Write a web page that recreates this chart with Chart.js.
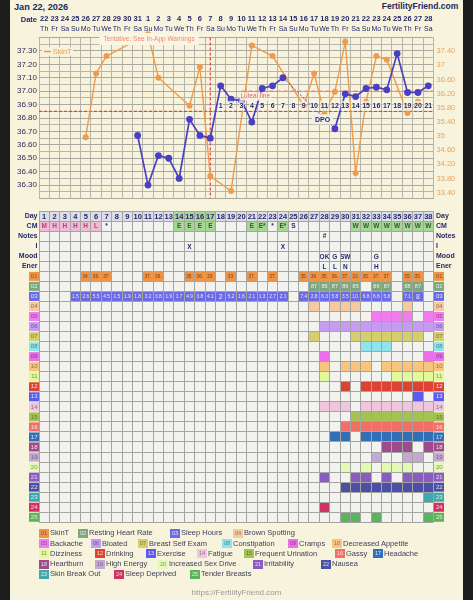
<!DOCTYPE html>
<html>
<head>
<meta charset="utf-8">
<script src="https://cdn.jsdelivr.net/npm/chart.js@4.4.1/dist/chart.umd.min.js"></script>
<style>
  body { margin: 0; width: 473px; height: 600px; overflow: hidden; position: relative; background: #1d1d1d; font-family: 'Liberation Sans', Arial, sans-serif; }
  #panel { position: absolute; left: 10px; top: 0; width: 453px; height: 600px; background: #f7f3dc; }
  #title { position: absolute; left: 14px; top: 1.8px; font-size: 9.2px; line-height: 10px; font-weight: bold; color: #232a5e; }
  #site { position: absolute; right: 14.7px; top: 1.4px; font-size: 8.5px; line-height: 10px; font-weight: bold; color: #232a5e; }
  canvas { position: absolute; left: 0; }
  .li { position: absolute; height: 10px; line-height: 10px; font-size: 7.5px; color: #41415c; white-space: nowrap; }
  .li span { display: inline-block; width: 10px; height: 9px; line-height: 9px; margin-right: 1px; font-size: 5.5px; text-align: center; vertical-align: top; margin-top: 0.5px; }
  #url { position: absolute; left: 0; width: 473px; top: 588px; text-align: center; font-size: 8px; line-height: 10px; color: #9a9a9a; }
  #copy { position: absolute; left: 0; width: 473px; top: 598px; text-align: center; font-size: 7px; line-height: 9px; color: #9a9a9a; }
</style>
</head>
<body>
<div id="panel"></div>
<div id="title">Jan 22, 2026</div>
<div id="site">FertilityFriend.com</div>
<canvas id="temps" width="473" height="206" style="top:0"></canvas>
<canvas id="table" width="473" height="324" style="top:205px"></canvas>
<div id="legend"></div>
<div id="url">https://FertilityFriend.com</div>
<div id="copy">Copyright 1998-2026 Tamtris Web Services Inc. All Rights Reserved.</div>
<script>
// cycle days 1..38
const dates = ['22','23','24','25','26','27','28','29','30','31','1','2','3','4','5','6','7','8','9','10','11','12','13','14','15','16','17','18','19','20','21','22','23','24','25','26','27','28'];
const weekdays = ['Th','Fr','Sa','Su','Mo','Tu','We','Th','Fr','Sa','Su','Mo','Tu','We','Th','Fr','Sa','Su','Mo','Tu','We','Th','Fr','Sa','Su','Mo','Tu','We','Th','Fr','Sa','Su','Mo','Tu','We','Th','Fr','Sa'];

const bbtTemps = [null,null,null,null,null,null,null,null,null,36.67,36.30,36.52,36.50,36.35,36.79,36.67,36.65,37.04,36.94,36.93,36.77,37.02,37.04,37.10,null,null,null,null,36.72,36.98,36.96,37.02,37.03,37.01,37.28,36.99,36.99,37.04];
const skinTemps = [null,null,null,null,34.97,36.77,37.26,null,null,null,37.88,36.65,null,null,35.86,36.95,33.87,null,33.45,null,37.56,null,37.26,null,null,35.86,36.77,35.62,36.25,37.67,33.96,35.97,37.26,37.16,null,35.65,35.97,null];

const leftTicks = ['36.30','36.40','36.50','36.60','36.70','36.80','36.90','37.00','37.10','37.20','37.30'];
const rightTicks = ['33.40','33.80','34.20','34.60','35','35.40','35.80','36.20','36.60','37','37.40'];

const coverline = 36.85;
const lutealLine = 37.0;
const lutealFromDay = 20;
const ovulationDay = 17;

const cervical = ['M','H','H','H','H','L','*','','','','','','','E','E','E','E','','','','E','E*','*','E*','S','','','','','','W','W','W','W','W','W','W','W'];
const fertileDays = [14,15,16,17];
const notes = {28: '#'};
const intercourse = {15: 'X', 24: 'X'};
const mood = {28: 'OK', 29: 'G', 30: 'SW', 33: 'G'};
const energy = {28: 'L', 29: 'L', 30: 'N', 33: 'H'};

const restingHR = {27: 87, 28: 85, 29: 87, 30: 89, 31: 85, 33: 86, 34: 87, 36: 88, 37: 87};
const sleepHours = {4: 1.5, 5: 2.6, 6: 5.5, 7: 4.5, 8: 1.5, 9: 1.9, 10: 1.8, 11: 3.2, 12: 3.8, 13: 1.9, 14: 1.7, 15: 4.9, 16: 3.8, 17: 4.1, 18: 2, 19: 5.2, 20: 1.6, 21: 2.1, 22: 1.3, 23: 2.7, 24: 2.1, 26: 7.4, 27: 2.8, 28: 6.3, 29: 5.8, 30: 3.5, 31: 10.2, 32: 6.8, 33: 6.6, 34: 5.8, 36: 7.1, 37: 8};

const symptomNames = ['SkinT','Resting Heart Rate','Sleep Hours','Brown Spotting','Backache','Bloated','Breast Self Exam','Constipation','Cramps','Decreased Appetite','Dizziness','Drinking','Exercise','Fatigue','Frequent Urination','Gassy','Headache','Heartburn','High Energy','Increased Sex Drive','Irritability','Nausea','Skin Break Out','Sleep Deprived','Tender Breasts'];
// days marked for symptoms 04..25
const symptomDays = {
  4: [27,29,30,31,36],
  5: [33,34,35,36,38],
  6: [28,29,30,31,32,33,34,35,36,37,38],
  7: [27,31,32,33,34,35,36,37],
  8: [32,33,34],
  9: [28,38],
  10: [28,30,31,32,34,35,36,37,38],
  11: [28,35,36,37,38],
  12: [30,32,33,34,35,36,37,38],
  13: [37],
  14: [28,29,30,32,33,34,35,36,37,38],
  15: [31,32,33,34,35,36,37,38],
  16: [30,31,32,33,34,35,36,37,38],
  17: [29,30,32,33,34,35,36,37,38],
  18: [34,35,36,38],
  19: [33,36,37],
  20: [30,32,34,35,36],
  21: [28,31,32,34,36,37,38],
  22: [30,31,32,33,34,35,36,37,38],
  23: [38],
  24: [28],
  25: [30,31,33,38]
};

const symptomColors = ['#ee9447','#7fa67f','#6b6be6','#f7c9a0','#f07cf0','#c59cf2','#d6cd6c','#8fe3ec','#ea6fe9','#f7c57d','#e3f89a','#dc4333','#5b5bf0','#f0c6df','#a3c454','#f06f66','#336fb6','#9f4a8a','#c1a9d4','#e3f9b5','#8a5cc0','#4b50a6','#3fa8ac','#d03262','#5cb35c'];
const legendRows = [[39,78,170,233],[39,91,138,222,288,332],[39,95,146,197,244,335,373],[39,95,158,253,321],[39,114,190]];

const FONT = "'Liberation Sans', Arial, sans-serif";
const NAVY = '#24296a';
const BLUE = '#4a3fc2';
const ORANGE = '#ef9b4d';
const RED = '#d8474a';
const GRID = '#b6b6ac';
const TABLE_GRID = '#a4a4a1';

Chart.defaults.font.family = FONT;

const codes = symptomNames.map((_, i) => String(i + 1).padStart(2, '0'));
const rowLabels = ['Day','CM','Notes','I','Mood','Ener'].concat(codes);
const points = arr => arr.map((v, i) => (v == null ? null : { x: i + 1, y: v })).filter(Boolean);
const boundaryTicks = () => Array.from({ length: dates.length + 1 }, (_, i) => ({ value: i + 0.5 }));
const dayTicks = () => dates.map((_, i) => ({ value: i + 1 }));

function inkFor(hex) {
  const n = parseInt(hex.slice(1), 16);
  const l = (0.299 * (n >> 16) + 0.587 * ((n >> 8) & 255) + 0.114 * (n & 255)) / 255;
  return l < 0.6 ? 'rgba(255,255,255,0.82)' : 'rgba(0,0,0,0.45)';
}

function labelBox(ctx, text, cx, cy, font, color, bg, padX) {
  ctx.font = font;
  const w = ctx.measureText(text).width + padX * 2;
  ctx.fillStyle = bg;
  ctx.fillRect(cx - w / 2, cy - 5, w, 10);
  ctx.fillStyle = color;
  ctx.fillText(text, cx, cy + 0.5);
}

const tempMarks = {
  id: 'tempMarks',
  beforeDatasetsDraw(chart) {
    const { ctx, chartArea: a, scales: { x, y } } = chart;
    const seg = (x0, y0, x1, y1) => { ctx.beginPath(); ctx.moveTo(x0, y0); ctx.lineTo(x1, y1); ctx.stroke(); };
    ctx.save();
    ctx.lineWidth = 1.2;
    ctx.strokeStyle = RED;
    ctx.setLineDash([3, 2]);
    const cy = y.getPixelForValue(coverline);
    seg(a.left, cy, a.right, cy);
    const ox = x.getPixelForValue(ovulationDay);
    seg(ox, a.top, ox, a.bottom);
    ctx.strokeStyle = '#e88585';
    ctx.setLineDash([4, 3]);
    const ly = y.getPixelForValue(lutealLine);
    seg(x.getPixelForValue(lutealFromDay), ly, a.right, ly);
    ctx.restore();
  },
  afterDatasetsDraw(chart) {
    const { ctx, chartArea: a, scales: { x, y } } = chart;
    ctx.save();
    ctx.textAlign = 'center';
    ctx.textBaseline = 'middle';
    const cy = y.getPixelForValue(coverline);
    // days past ovulation
    for (let d = ovulationDay + 1; d <= dates.length; d++) {
      labelBox(ctx, String(d - ovulationDay), x.getPixelForValue(d), cy - 5.5, 'bold 7px ' + FONT, NAVY, 'rgba(246,245,236,0.75)', 0.5);
    }
    labelBox(ctx, 'DPO', x.getPixelForValue(28) - 2, cy + 8, 'bold 7px ' + FONT, NAVY, '#f1f0e6', 3);
    ctx.textAlign = 'left';
    ctx.font = '6.5px ' + FONT;
    const lx = x.getPixelForValue(lutealFromDay) - 1;
    const ly = y.getPixelForValue(lutealLine) + 5.5;
    ctx.fillStyle = 'rgba(248,244,226,0.9)';
    ctx.fillRect(lx - 1, ly - 4, ctx.measureText('Luteal line').width + 2, 8);
    ctx.fillStyle = '#e06565';
    ctx.fillText('Luteal line', lx, ly);
    // tentative warning
    ctx.textAlign = 'center';
    ctx.font = '6.5px ' + FONT;
    const tx = x.getPixelForValue(11.1);
    const tw = ctx.measureText('Tentative: See In-App Warnings').width + 8;
    ctx.fillStyle = '#f9f6e6';
    ctx.fillRect(tx - tw / 2, a.top - 4.5, tw, 12);
    ctx.fillStyle = '#ee8a68';
    ctx.fillText('Tentative: See In-App Warnings', tx, a.top + 1.8);
    // skin temperature legend
    const sk = chart.data.datasets[1];
    const ky = a.top + 14;
    ctx.fillStyle = '#f7f3dc';
    ctx.fillRect(a.left + 3, ky - 4, 31, 8);
    ctx.strokeStyle = sk.borderColor;
    ctx.lineWidth = 1.6;
    ctx.beginPath(); ctx.moveTo(a.left + 5, ky); ctx.lineTo(a.left + 12, ky); ctx.stroke();
    ctx.textAlign = 'left';
    ctx.font = '7.5px ' + FONT;
    ctx.fillStyle = sk.borderColor;
    ctx.fillText(sk.label, a.left + 13.5, ky + 0.5);
    // header caption
    ctx.textAlign = 'right';
    ctx.font = 'bold 7.5px ' + FONT;
    ctx.fillStyle = NAVY;
    ctx.fillText('Date', a.left - 2, 20);
    ctx.restore();
  }
};

new Chart(document.getElementById('temps'), {
  type: 'line',
  data: {
    datasets: [
      {
        label: 'BBT', data: points(bbtTemps), yAxisID: 'y',
        borderColor: BLUE, backgroundColor: BLUE, borderWidth: 1.7,
        pointRadius: 3.4, pointBorderWidth: 0,
        segment: {
          borderDash: c => (c.p1.parsed.x - c.p0.parsed.x > 1 ? [2, 2] : undefined),
          borderWidth: c => (c.p1.parsed.x - c.p0.parsed.x > 1 ? 1 : undefined)
        }
      },
      {
        label: 'SkinT', data: points(skinTemps), yAxisID: 'y2',
        borderColor: ORANGE, backgroundColor: ORANGE, borderWidth: 1.4,
        pointRadius: 3, pointBorderWidth: 0, clip: false
      }
    ]
  },
  options: {
    responsive: false, animation: false, devicePixelRatio: 1,
    layout: { padding: { top: 13, bottom: 0.5, left: 0, right: 0 } },
    plugins: { legend: { display: false }, tooltip: { enabled: false } },
    scales: {
      x: {
        type: 'linear', min: 0.5, max: 38.5, position: 'bottom',
        afterBuildTicks: s => { s.ticks = boundaryTicks(); },
        ticks: { display: false }, border: { display: false },
        grid: { color: GRID, drawTicks: false },
        afterFit: s => { s.height = 0; }
      },
      xDate: {
        type: 'linear', min: 0.5, max: 38.5, position: 'top', weight: 1,
        afterBuildTicks: s => { s.ticks = dayTicks(); },
        ticks: { callback: (v, i) => dates[i], autoSkip: false, maxRotation: 0, padding: 0.5, color: NAVY, font: { size: 7.5, weight: 'bold' } },
        grid: { display: false, drawTicks: false }, border: { display: false },
        afterFit: s => { s.height = 10.5; }
      },
      xWeek: {
        type: 'linear', min: 0.5, max: 38.5, position: 'top', weight: 0,
        afterBuildTicks: s => { s.ticks = dayTicks(); },
        ticks: { callback: (v, i) => weekdays[i], autoSkip: false, maxRotation: 0, padding: 4.5, color: NAVY, font: { size: 7 } },
        grid: { display: false, drawTicks: false }, border: { display: false },
        afterFit: s => { s.height = 14; }
      },
      y: {
        position: 'left', min: 36.2, max: 37.4,
        afterBuildTicks: s => { s.ticks = Array.from({ length: 25 }, (_, i) => ({ value: +(36.2 + i * 0.05).toFixed(2) })); },
        ticks: {
          autoSkip: false, padding: 2, color: '#2e2e58', font: { size: 8 },
          callback: v => leftTicks.find(t => Math.abs(+t - v) < 1e-6) || ''
        },
        grid: { drawTicks: false, color: c => (c.tick && Math.abs(c.tick.value * 10 - Math.round(c.tick.value * 10)) < 1e-6 ? '#a9a9a0' : GRID) },
        border: { display: false },
        afterFit: s => { s.width = 39; }
      },
      y2: {
        position: 'right', min: 33.237, max: 37.786,
        afterBuildTicks: s => { s.ticks = rightTicks.map(t => ({ value: +t })); },
        ticks: { autoSkip: false, padding: 3, color: '#eba35e', font: { size: 7.5 }, callback: (v, i) => rightTicks[i] },
        grid: { display: false, drawTicks: false }, border: { display: false },
        afterFit: s => { s.width = 39.5; }
      }
    }
  },
  plugins: [tempMarks]
});

const tableCells = {
  id: 'tableCells',
  beforeDraw(chart) {
    const { ctx, chartArea: a, scales: { x, y } } = chart;
    const rh = y.getPixelForValue(1) - y.getPixelForValue(0);
    const row = name => rowLabels.indexOf(name);
    const fill = (d, r, c) => {
      const l = x.getPixelForValue(d - 0.5);
      ctx.fillStyle = c;
      ctx.fillRect(l, y.getPixelForValue(r) - rh / 2, x.getPixelForValue(d + 0.5) - l, rh);
    };
    const write = (d, r, s, font, color) => {
      ctx.font = font;
      ctx.fillStyle = color;
      ctx.fillText(s, x.getPixelForValue(d), y.getPixelForValue(r) + 0.5);
    };
    ctx.save();
    ctx.fillStyle = '#f2f2ef';
    ctx.fillRect(a.left, a.top, a.width, a.height);
    ctx.textAlign = 'center';
    ctx.textBaseline = 'middle';
    const bold = 'bold 6.5px ' + FONT;
    dates.forEach((_, i) => {
      const d = i + 1;
      fill(d, row('Day'), fertileDays.includes(d) ? '#a9d59a' : '#dcdde8');
      write(d, row('Day'), String(d), 'bold 7.5px ' + FONT, NAVY);
      const cm = cervical[i];
      if (cm) {
        const wet = /^[EW]/.test(cm), dry = /^[MHL]/.test(cm);
        if (wet) fill(d, row('CM'), '#a6d596');
        if (dry) fill(d, row('CM'), '#eebcd5');
        write(d, row('CM'), cm, bold, wet ? '#2d5d2d' : dry ? '#b4427f' : NAVY);
      }
      if (notes[d]) write(d, row('Notes'), notes[d], bold, NAVY);
      if (intercourse[d]) write(d, row('I'), intercourse[d], bold, NAVY);
      if (mood[d]) write(d, row('Mood'), mood[d], bold, NAVY);
      if (energy[d]) write(d, row('Ener'), energy[d], bold, NAVY);
      if (skinTemps[i] != null) {
        fill(d, row('01'), symptomColors[0]);
        write(d, row('01'), Math.floor(skinTemps[i]) + '.', '4.8px ' + FONT, '#7a3c10');
      }
      if (restingHR[d] != null) {
        fill(d, row('02'), symptomColors[1]);
        write(d, row('02'), String(restingHR[d]), '5.5px ' + FONT, '#eef5ee');
      }
      if (sleepHours[d] != null) {
        const v = sleepHours[d];
        fill(d, row('03'), symptomColors[2]);
        const whole = Number.isInteger(v);
        write(d, row('03'), whole ? String(v) : String(v).slice(0, 3), (whole ? '7px ' : '4.8px ') + FONT, '#e8e8ff');
      }
    });
    Object.entries(symptomDays).forEach(([k, list]) => {
      list.forEach(d => fill(d, row(codes[k - 1]), symptomColors[k - 1]));
    });
    codes.forEach((c, i) => {
      const yc = y.getPixelForValue(row(c));
      ctx.fillStyle = symptomColors[i];
      ctx.fillRect(a.left - 10, yc - 4.5, 10, 9);
      ctx.fillRect(a.right + 0.5, yc - 4.5, 10, 9);
    });
    ctx.restore();
  }
};

const rowTick = side => ({
  autoSkip: false,
  padding: side === 'left' ? 1.5 : 2.5,
  font: c => (c.index < 6 ? { size: 7, weight: 'bold' } : { size: 6 }),
  color: c => (c.index < 6 ? NAVY : inkFor(symptomColors[c.index - 6]))
});

new Chart(document.getElementById('table'), {
  type: 'scatter',
  data: { datasets: [] },
  options: {
    responsive: false, animation: false, devicePixelRatio: 1,
    layout: { padding: { top: 0.8, bottom: 2, left: 0, right: 0 } },
    plugins: { legend: { display: false }, tooltip: { enabled: false } },
    scales: {
      x: {
        type: 'linear', min: 0.5, max: 38.5,
        afterBuildTicks: s => { s.ticks = boundaryTicks(); },
        ticks: { display: false }, border: { display: false },
        grid: { color: TABLE_GRID, drawTicks: false },
        afterFit: s => { s.height = 0; }
      },
      y: {
        type: 'category', labels: rowLabels, offset: true, position: 'left',
        ticks: rowTick('left'),
        grid: { offset: true, color: TABLE_GRID, drawTicks: false }, border: { display: false },
        afterFit: s => { s.width = 39; }
      },
      y2: {
        type: 'category', labels: rowLabels, offset: true, position: 'right',
        ticks: rowTick('right'),
        grid: { display: false, drawTicks: false }, border: { display: false },
        afterFit: s => { s.width = 39.5; }
      }
    }
  },
  plugins: [tableCells]
});

// legend of chart rows
const legend = document.getElementById('legend');
let k = 0;
legendRows.forEach((xs, r) => {
  xs.forEach(left => {
    const item = document.createElement('div');
    item.className = 'li';
    item.style.left = left + 'px';
    item.style.top = (528.3 + r * 10.25) + 'px';
    const box = document.createElement('span');
    box.textContent = codes[k];
    box.style.background = symptomColors[k];
    box.style.color = inkFor(symptomColors[k]);
    item.appendChild(box);
    item.appendChild(document.createTextNode(symptomNames[k]));
    legend.appendChild(item);
    k++;
  });
});
</script>
</body>
</html>
